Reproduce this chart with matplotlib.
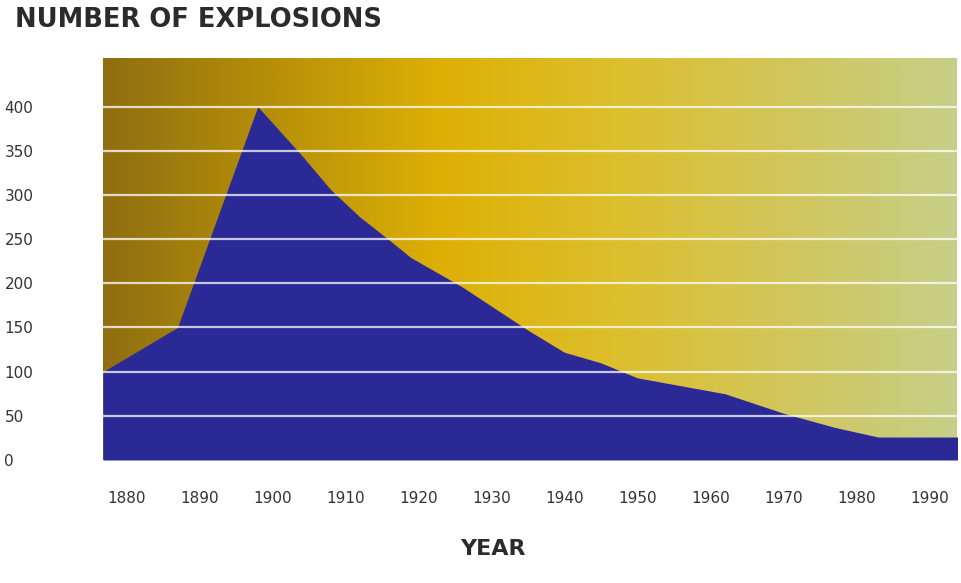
import numpy as np
import matplotlib
matplotlib.use("Agg")
import matplotlib.pyplot as plt
from matplotlib.colors import LinearSegmentedColormap

# Data (year, number of explosions)
years = [1876.8, 1887, 1898, 1904, 1908, 1912, 1916, 1919, 1926, 1935,
         1940, 1945, 1950, 1962, 1970, 1977, 1983, 1994]
explosions = [100, 150, 400, 345, 306, 275, 249, 229, 196, 147,
              122, 110, 93, 75, 53, 37, 26, 26]

x_ticks = [1880, 1890, 1900, 1910, 1920, 1930, 1940, 1950, 1960, 1970, 1980, 1990]
y_ticks = [0, 50, 100, 150, 200, 250, 300, 350, 400]

fig = plt.figure(figsize=(9.62, 5.83), dpi=100)
ax = fig.add_axes([103 / 962, 123 / 583, 854 / 962, 402 / 583])

xmin, xmax = 1876.8, 1993.8
ymin, ymax = 0, 455

# gradient background
bg = LinearSegmentedColormap.from_list(
    "bg", [(0.0, "#8f6e12"), (0.15, "#ad880a"), (0.4, "#deb006"),
           (0.6, "#dcbf2c"), (0.8, "#d2c65c"), (1.0, "#c6cf88")])
grad = np.linspace(0, 1, 512).reshape(1, -1)
ax.imshow(grad, cmap=bg, aspect="auto", extent=[xmin, xmax, ymin, ymax],
          zorder=0, interpolation="bilinear")

ax.fill_between(years, explosions, 0, color="#2a2996", lw=0, zorder=1)

for y in y_ticks[1:]:
    ax.axhline(y, color="white", lw=1.6, alpha=0.75, zorder=2)

ax.set_xlim(xmin, xmax)
ax.set_ylim(ymin, ymax)
for s in ax.spines.values():
    s.set_visible(False)

ax.set_yticks(y_ticks)
ax.set_xticks(x_ticks)
ax.tick_params(length=0, labelsize=11, labelcolor="#333333")
ax.tick_params(axis="y", pad=71)
ax.tick_params(axis="x", pad=22)
for lbl in ax.get_yticklabels():
    lbl.set_horizontalalignment("left")

fig.text(15 / 962, 1 - 20 / 583, "NUMBER OF EXPLOSIONS", fontsize=18.5,
         fontweight="bold", color="#2b2b2b", ha="left", va="center")
fig.text(493 / 962, 1 - 549 / 583, "YEAR", fontsize=16,
         fontweight="bold", color="#2b2b2b", ha="center", va="center")

fig.savefig("out.png", dpi=100)
